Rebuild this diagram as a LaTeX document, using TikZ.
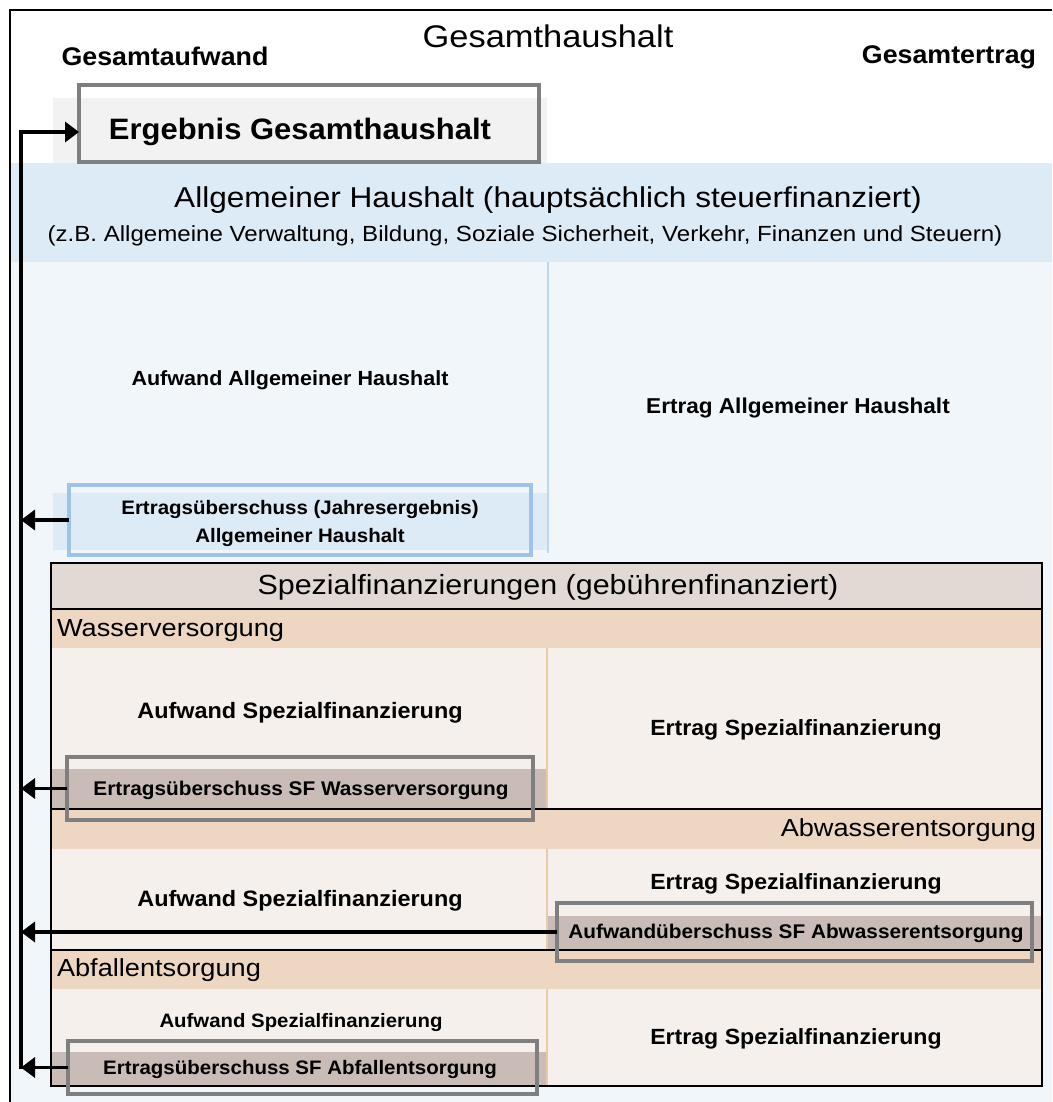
\documentclass[tikz,border=0pt]{standalone}
\usepackage{fontspec}
\setmainfont{Liberation Sans}
\newfontfamily\stretchreg{Liberation Sans}[FakeStretch=1.1]
\newfontfamily\stretchbold{Liberation Sans}[FakeStretch=1.05]
\usetikzlibrary{arrows.meta}

\newcommand\fsz[1]{\fontsize{#1}{#1}\selectfont}

\definecolor{bgblue}{HTML}{F1F6FB}
\definecolor{bandblue}{HTML}{DDEBF7}
\definecolor{bandgrey}{HTML}{F2F2F2}
\definecolor{boxgrey}{HTML}{7F7F7F}
\definecolor{boxblue}{HTML}{9DC3E6}
\definecolor{divblue}{HTML}{BDD7EE}
\definecolor{sfhead}{HTML}{E3D9D4}
\definecolor{secband}{HTML}{EDD6C2}
\definecolor{secbody}{HTML}{F5F0EC}
\definecolor{boxband}{HTML}{C9BBB6}
\definecolor{peachdiv}{HTML}{E9C9A6}

\tikzset{
  plain/.style={inner sep=0pt, outer sep=0pt},
  regtxt/.style={plain, font=\stretchreg\fsz{#1}},
  bldtxt/.style={plain, font=\stretchbold\bfseries\fsz{#1}},
  greybox/.style={plain, draw=boxgrey, line width=3.5pt},
  bluebox/.style={plain, draw=boxblue, line width=3.5pt},
  thinrule/.style={black, line width=1.3pt},
  flow/.style={line width=3.5pt, -{Triangle[length=14pt 0 0,width=20pt 0 0]}},
  busline/.style={line width=3.5pt, line cap=rect},
}

\begin{document}
\begin{tikzpicture}[x=1pt, y=-1pt]
\useasboundingbox (0,0) rectangle (1052,1102);

% page background and outer frame
\fill[white] (0,0) rectangle (1052,1102);
\fill[bgblue] (10,262) rectangle (1052,1102);
\fill[bandblue] (10,163) rectangle (1052,262);
\fill[bandgrey] (53,98) rectangle (547,163);
\draw[black, line width=1.5pt] (10,1102) -- (10,10) -- (1052,10);

% header texts
\node[regtxt=31.3] (title) at (548,36) {Gesamthaushalt};
\node[bldtxt=25.5] (aufwand) at (165,56) {Gesamtaufwand};
\node[bldtxt=25.5] (ertrag) at (949,57) {Gesamtertrag};

% overall result
\node[greybox, minimum width=460pt, minimum height=77pt] (ergbox) at (309,123.5) {};
\node[bldtxt=29.5] (ergtxt) at (300,132) {Ergebnis Gesamthaushalt};

% general budget
\node[regtxt=28.7] (ahhead) at (548,200) {Allgemeiner Haushalt (hauptsächlich steuerfinanziert)};
\node[regtxt=21.9] (ahsub) at (525,236) {(z.B. Allgemeine Verwaltung, Bildung, Soziale Sicherheit, Verkehr, Finanzen und Steuern)};
\draw[divblue, line width=2.5pt] (548,262) -- (548,553);
\node[bldtxt=20.5] (ahauf) at (290,380) {Aufwand Allgemeiner Haushalt};
\node[bldtxt=21.5] (aher) at (798,408) {Ertrag Allgemeiner Haushalt};
\fill[bandblue] (53,493) rectangle (547,550);
\node[bluebox, minimum width=462pt, minimum height=70pt] (ahbox) at (300,520) {};
\node[plain, align=center, font=\stretchbold\bfseries\fontsize{19.5}{28}\selectfont] (ahtxt) at (300,523)
  {Ertragsüberschuss (Jahresergebnis)\\Allgemeiner Haushalt};

% special financing block
\fill[secbody] (51,563) rectangle (1042,1086);
\fill[sfhead] (51,563) rectangle (1042,609);
\fill[secband] (51,609) rectangle (1042,648);
\fill[secband] (51,809) rectangle (1042,849);
\fill[secband] (51,950) rectangle (1042,989);
\fill[boxband] (51,769) rectangle (547,809);
\fill[boxband] (547,916) rectangle (1042,950);
\fill[boxband] (51,1052) rectangle (547,1086);
\draw[peachdiv, line width=2pt] (547,648) -- (547,809);
\draw[peachdiv, line width=2pt] (547,849) -- (547,950);
\draw[peachdiv, line width=2pt] (547,989) -- (547,1086);
\draw[thinrule] (51,609) -- (1042,609);
\draw[thinrule] (51,809) -- (1042,809);
\draw[thinrule] (51,950) -- (1042,950);
\draw[black, line width=2.5pt] (51,563) rectangle (1042,1086);

\node[regtxt=27.7] (sfhead) at (548,587) {Spezialfinanzierungen (gebührenfinanziert)};

% water supply
\node[regtxt=24.7, anchor=west] (wlabel) at (57,631) {Wasserversorgung};
\node[bldtxt=22.3] (wauf) at (300,713) {Aufwand Spezialfinanzierung};
\node[bldtxt=22] (wert) at (796,730) {Ertrag Spezialfinanzierung};
\node[greybox, minimum width=466pt, minimum height=63pt] (wbox) at (300,788.5) {};
\node[bldtxt=19.8] (wtxt) at (301,790) {Ertragsüberschuss SF Wasserversorgung};

% waste water
\node[regtxt=24.7, anchor=east] (awlabel) at (1036,830) {Abwasserentsorgung};
\node[bldtxt=22.3] (awauf) at (300,901) {Aufwand Spezialfinanzierung};
\node[bldtxt=22] (awert) at (796,884) {Ertrag Spezialfinanzierung};
\node[greybox, minimum width=475pt, minimum height=58pt] (awbox) at (794.5,932) {};
\node[bldtxt=19.8] (awtxt) at (796,933) {Aufwandüberschuss SF Abwasserentsorgung};

% waste disposal
\node[regtxt=24.7, anchor=west] (ablabel) at (57,970) {Abfallentsorgung};
\node[bldtxt=19.4] (abauf) at (301,1023) {Aufwand Spezialfinanzierung};
\node[bldtxt=22] (abert) at (796,1039) {Ertrag Spezialfinanzierung};
\node[greybox, minimum width=469pt, minimum height=53pt] (abbox) at (302.5,1067.5) {};
\node[bldtxt=19.5] (abtxt) at (300,1069) {Ertragsüberschuss SF Abfallentsorgung};

% collecting line and flows into the overall result
\coordinate (busx) at (21,0);
\draw[busline] (busx |- abbox.west) -- (busx |- ergtxt);
\draw[flow] (busx |- ergtxt) -- (ergbox.west |- ergtxt);
\draw[flow] (ahbox.west) -- (busx |- ahbox.west);
\draw[flow] (wbox.west) -- (busx |- wbox.west);
\draw[flow] (awbox.west) -- (busx |- awbox.west);
\draw[flow] (abbox.west) -- (busx |- abbox.west);
\end{tikzpicture}
\end{document}
